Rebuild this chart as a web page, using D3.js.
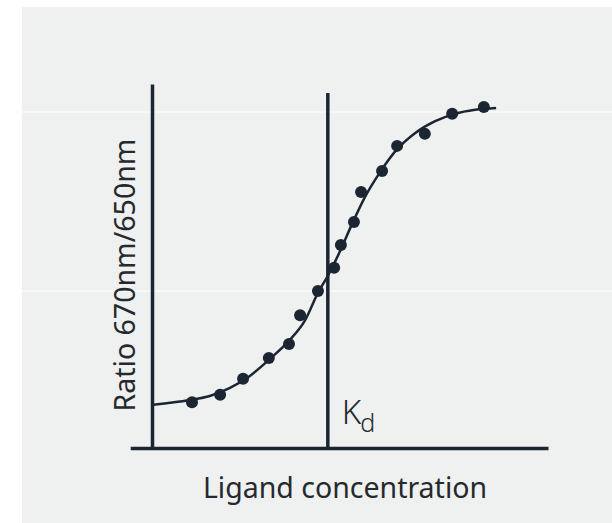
<!DOCTYPE html>
<html>
<head>
<meta charset="utf-8">
<script src="https://cdn.jsdelivr.net/npm/d3@7"></script>
<style>
  html, body { margin: 0; padding: 0; background: #ffffff; }
  svg { display: block; }
  text { font-family: "Noto Sans", "Open Sans", sans-serif; fill: #26292d; }
</style>
</head>
<body>
<svg id="chart" width="612" height="523"></svg>
<script>
// ---- data (x = ligand concentration, arbitrary log units; y = ratio, normalised) ----
const pointX = [1.01, 1.72, 2.30, 2.95, 3.46, 3.74, 4.19, 4.60, 4.77, 5.10, 5.28, 5.81, 6.19, 6.89, 7.58, 8.38];
const pointY = [0.126, 0.146, 0.190, 0.247, 0.286, 0.365, 0.431, 0.495, 0.558, 0.621, 0.703, 0.761, 0.830, 0.863, 0.918, 0.937];

// fitted sigmoid curve
const curveX = [0, 0.45, 0.96, 1.46, 1.97, 2.47, 2.98, 3.48, 3.86, 4.19, 4.44, 4.75, 5.05, 5.38, 5.76, 6.19, 6.64, 7.15, 7.65, 8.16, 8.69];
const curveY = [0.118, 0.124, 0.132, 0.143, 0.165, 0.198, 0.245, 0.297, 0.350, 0.426, 0.473, 0.541, 0.615, 0.690, 0.758, 0.821, 0.865, 0.898, 0.918, 0.929, 0.934];

const kdValue = 4.44;     // Kd marker position on x
const kdTop = 0.975;      // height of Kd marker line
const xExtent = [-0.55, 10];
const yExtent = [0, 1];

const xLabel = "Ligand concentration";
const yLabel = "Ratio 670nm/650nm";
const kdLabel = "K";
const kdSub = "d";

// ---- layout ----
const W = 612, H = 523;
const plot = { left: 152, right: 548, top: 84, bottom: 448 };
const ink = "#1c2632";

const svg = d3.select("#chart");

// panel background
svg.append("rect").attr("x", 22).attr("y", 7).attr("width", W - 22).attr("height", H - 7).attr("fill", "#eef1f0");
// faint seams in the original picture
[112, 291].forEach(yy => svg.append("line").attr("x1", 22).attr("x2", W).attr("y1", yy).attr("y2", yy)
  .attr("stroke", "#ffffff").attr("stroke-width", 1));

const x = d3.scaleLinear().domain([0, 10]).range([plot.left, plot.right]);
const y = d3.scaleLinear().domain(yExtent).range([plot.bottom, plot.top]);

// y axis (vertical line at x = 0)
svg.append("g")
  .attr("transform", `translate(${x(0)},0)`)
  .call(d3.axisLeft(y).tickValues([]).tickSizeOuter(0))
  .call(g => g.select(".domain").attr("stroke", ink).attr("stroke-width", 3.5));

// x axis (horizontal baseline)
const xAxisScale = d3.scaleLinear().domain(xExtent).range([x(xExtent[0]), x(xExtent[1])]);
svg.append("g")
  .attr("transform", `translate(0,${y(0)})`)
  .call(d3.axisBottom(xAxisScale).tickValues([]).tickSizeOuter(0))
  .call(g => g.select(".domain").attr("stroke", ink).attr("stroke-width", 3.5));

// Kd marker
svg.append("line")
  .attr("x1", x(kdValue)).attr("x2", x(kdValue))
  .attr("y1", y(0)).attr("y2", y(kdTop))
  .attr("stroke", ink).attr("stroke-width", 3.5);

// fitted curve
const curveData = curveX.map((v, i) => [v, curveY[i]]);
svg.append("path")
  .datum(curveData)
  .attr("fill", "none")
  .attr("stroke", ink)
  .attr("stroke-width", 2.5)
  .attr("d", d3.line().x(d => x(d[0])).y(d => y(d[1])).curve(d3.curveMonotoneX));

// data points
svg.append("g").selectAll("circle")
  .data(pointX.map((v, i) => [v, pointY[i]]))
  .join("circle")
  .attr("cx", d => x(d[0]))
  .attr("cy", d => y(d[1]))
  .attr("r", 6)
  .attr("fill", ink);

// Kd label
const kd = svg.append("text")
  .attr("x", x(kdValue) + 14)
  .attr("y", 424)
  .attr("font-size", 33)
  .attr("font-weight", 300);
kd.append("tspan").text(kdLabel);
kd.append("tspan").attr("dy", 8).attr("dx", -1).attr("font-size", 25).text(kdSub);

// axis titles
svg.append("text")
  .attr("x", 345)
  .attr("y", 498)
  .attr("text-anchor", "middle")
  .attr("font-size", 28.5)
  .text(xLabel);

svg.append("text")
  .attr("transform", `translate(135,275) rotate(-90)`)
  .attr("text-anchor", "middle")
  .attr("font-size", 28.5)
  .text(yLabel);
</script>
</body>
</html>
